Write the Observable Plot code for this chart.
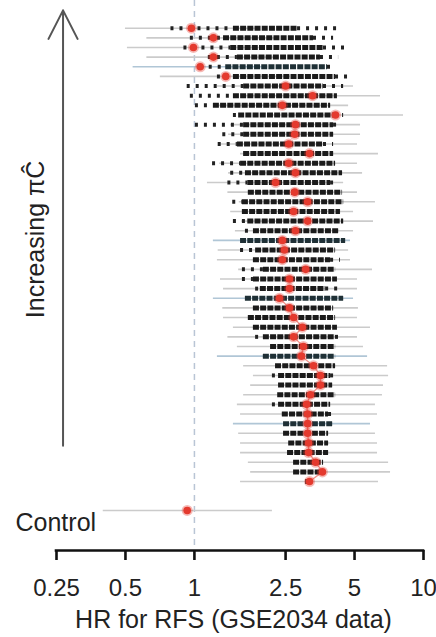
<!DOCTYPE html>
<html>
<head>
<meta charset="utf-8">
<script src="https://cdn.jsdelivr.net/npm/d3@7"></script>
<script src="https://cdn.jsdelivr.net/npm/@observablehq/plot@0.6"></script>
<style>
  html, body { margin: 0; padding: 0; background: #fff; }
  #chart svg { display: block; }
</style>
</head>
<body>
<div id="chart"></div>
<script>
// Hazard ratio for relapse-free survival (GSE2034), one row per signature,
// ordered top to bottom by increasing πĈ; last row is the control signature.
const hr = [0.97, 1.21, 0.99, 1.21, 1.06, 1.37, 2.50, 3.28, 2.42, 4.13,
            2.76, 2.74, 2.58, 3.18, 2.58, 2.76, 2.26, 2.74, 3.12, 2.71,
            3.12, 2.76, 2.42, 2.47, 2.42, 3.06, 2.60, 2.60, 2.35, 2.60,
            2.71, 2.96, 2.71, 2.99, 2.93, 3.31, 3.55, 3.55, 3.21, 3.09,
            3.12, 3.12, 3.12, 3.15, 3.15, 3.38, 3.62, 3.18];
const ciLo = [0.50, 0.62, 0.51, 0.62, 0.54, 0.71, 1.26, 1.66, 1.25, 2.09,
              1.44, 1.41, 1.29, 1.59, 1.29, 1.41, 1.14, 1.40, 1.57, 1.44,
              1.61, 1.51, 1.21, 1.27, 1.26, 1.56, 1.30, 1.34, 1.21, 1.33,
              1.34, 1.48, 1.40, 1.54, 1.26, 1.64, 1.81, 1.76, 1.64, 1.54,
              1.59, 1.48, 1.56, 1.59, 1.59, 1.72, 1.76, 1.59];
const ciHi = [1.89, 2.35, 1.92, 2.35, 2.09, 2.63, 4.95, 6.49, 4.71, 8.18,
              5.31, 5.31, 5.15, 6.36, 5.15, 5.42, 4.48, 5.15, 6.17, 4.95,
              6.05, 4.95, 4.80, 4.71, 4.80, 5.99, 5.15, 5.15, 4.95, 5.20,
              5.15, 5.87, 5.15, 5.47, 5.70, 6.97, 7.04, 6.69, 6.62, 6.17,
              6.30, 5.87, 6.17, 6.30, 6.30, 7.04, 7.18, 6.36];

// HRs of the matched random signatures: dense core and sparse outer range
const coreLo = [1.48, 1.34, 1.44, 1.54, 1.37, 1.48, 1.64, 1.48, 1.21, 1.56,
                1.64, 1.64, 1.54, 1.64, 1.59, 1.67, 1.71, 1.72, 1.62, 1.62,
                1.71, 1.81, 1.59, 1.85, 1.81, 2.00, 1.81, 1.94, 1.67, 1.81,
                1.72, 1.81, 2.00, 2.15, 2.00, 2.26, 2.33, 2.33, 2.31, 2.33,
                2.42, 2.45, 2.45, 2.58, 2.55, 2.71, 2.71, 3.06];
const coreHi = [2.82, 3.31, 3.66, 3.55, 3.81, 4.13, 3.66, 4.21, 3.93, 4.05,
                4.05, 4.05, 3.66, 4.05, 4.13, 4.43, 3.93, 4.43, 4.48, 4.34,
                4.48, 4.26, 4.57, 4.13, 3.93, 4.13, 4.21, 3.74, 4.48, 4.05,
                4.13, 4.21, 4.13, 4.13, 4.13, 4.13, 3.93, 4.01, 4.13, 3.93,
                3.85, 4.01, 3.85, 3.85, 3.85, 3.66, 3.66, 3.28];
const tailLo = [0.79, 0.96, 0.90, 1.15, 1.06, 1.26, 0.93, 0.96, 1.01, 1.48,
                1.01, 1.33, 1.27, 1.64, 1.20, 1.44, 1.40, 1.72, 1.47, 1.62,
                1.48, 1.67, 1.59, 1.59, 1.81, 1.62, 1.62, 1.85, 1.67, 1.81,
                1.72, 1.81, 1.85, 2.15, 2.00, 2.26, 2.19, 2.33, 2.31, 2.19,
                2.42, 2.45, 2.45, 2.58, 2.55, 2.71, 2.71, 3.06];
const tailHi = [4.21, 4.05, 4.71, 4.26, 4.13, 4.66, 4.48, 4.21, 3.93, 4.48,
                4.34, 4.05, 4.05, 4.05, 4.13, 4.43, 4.26, 4.43, 4.48, 4.34,
                4.48, 4.26, 4.57, 4.13, 4.34, 4.13, 4.21, 4.43, 4.48, 4.05,
                4.13, 4.21, 4.43, 4.13, 4.13, 4.13, 4.26, 4.01, 4.13, 3.93,
                4.13, 4.01, 3.85, 3.85, 3.85, 3.66, 3.66, 3.28];

// Rows drawn with a blue-tinted interval
const blueRows = [4, 22, 28, 34, 41];

const controlLabel = "Control";
const controlHr = 0.93;
const controlLo = 0.40;
const controlHi = 2.19;

const tickValues = [0.25, 0.5, 1, 2.5, 5, 10];
const tickLabels = ["0.25", "0.5", "1", "2.5", "5", "10"];
const xLabel = "HR for RFS (GSE2034 data)";
const arrowLabel = "Increasing πĈ";

// ---- derived tables ----
const rows = hr.map((v, i) => ({
  row: i, hr: v, lo: ciLo[i], hi: ciHi[i],
  coreLo: coreLo[i], coreHi: coreHi[i], tailLo: tailLo[i], tailHi: tailHi[i],
  blue: blueRows.includes(i)
}));
const controlRow = rows.length + 2;
const control = [{label: controlLabel, hr: controlHr, lo: controlLo, hi: controlHi, row: controlRow}];
const ticks = tickValues.map((v, i) => ({value: v, label: tickLabels[i]}));

const yDomain = [-2.87, 54.15];
const red = "#e43a2e";
const ink = "#222";
const font = "'Liberation Sans', Arial, Helvetica, sans-serif";

const chart = Plot.plot({
  width: 436,
  height: 637,
  marginLeft: 56,
  marginRight: 13,
  marginTop: 0,
  marginBottom: 87,
  style: {fontFamily: font, color: ink, background: "#fff", overflow: "visible"},
  x: {type: "log", domain: [tickValues[0], tickValues[tickValues.length - 1]]},
  y: {domain: yDomain, range: [0, 550], axis: null},
  marks: [
    // reference line at HR = 1
    Plot.ruleX([1], {stroke: "#b9c5d5", strokeWidth: 1.5, strokeDasharray: "6,5"}),

    // confidence intervals
    Plot.ruleY(rows.filter(d => !d.blue), {y: "row", x1: "lo", x2: "hi", stroke: "#cbcbcb", strokeWidth: 1.6}),
    Plot.ruleY(rows.filter(d => d.blue), {y: "row", x1: "lo", x2: "hi", stroke: "#b0c6d6", strokeWidth: 1.6}),
    Plot.ruleY(control, {y: "row", x1: "lo", x2: "hi", stroke: "#cbcbcb", strokeWidth: 1.6}),

    // random-signature HRs: sparse tails, then dense core
    Plot.ruleY(rows, {y: "row", x1: "tailLo", x2: "coreLo", stroke: ink, strokeWidth: 4, strokeDasharray: "3,6"}),
    Plot.ruleY(rows, {y: "row", x1: "coreHi", x2: "tailHi", stroke: ink, strokeWidth: 4, strokeDasharray: "3,6"}),
    Plot.ruleY(rows.filter(d => !d.blue), {y: "row", x1: "coreLo", x2: "coreHi", stroke: "#1b1b1b", strokeWidth: 5, strokeDasharray: "6,1.2"}),
    Plot.ruleY(rows.filter(d => d.blue), {y: "row", x1: "coreLo", x2: "coreHi", stroke: "#1f3036", strokeWidth: 5, strokeDasharray: "6,1.2"}),

    // estimates
    Plot.line(rows.filter(d => d.row >= 28), {x: "hr", y: "row", stroke: red, strokeWidth: 1.3, strokeOpacity: 0.55}),
    Plot.dot(rows, {x: "hr", y: "row", r: 5.5, fill: red, fillOpacity: 0.35}),
    Plot.dot(rows, {x: "hr", y: "row", r: 3.8, fill: red}),
    Plot.dot(control, {x: "hr", y: "row", r: 5.5, fill: red, fillOpacity: 0.35}),
    Plot.dot(control, {x: "hr", y: "row", r: 3.8, fill: red}),

    Plot.text(control, {text: "label", y: "row", frameAnchor: "left", dx: -41, dy: 13,
                        textAnchor: "start", lineAnchor: "middle", fontSize: 25, fill: ink}),

    // x axis: line, ticks and labels
    Plot.ruleY([yDomain[1]], {x1: tickValues[0], x2: tickValues[tickValues.length - 1],
                              stroke: "#111", strokeWidth: 2.6, strokeLinecap: "square"}),
    Plot.axisX(tickValues, {tickFormat: () => "", tickSize: 10, strokeWidth: 2.6, stroke: "#111", label: null}),
    Plot.text(ticks, {x: "value", text: "label", frameAnchor: "bottom", dy: 37.5,
                      textAnchor: "middle", lineAnchor: "middle", fontSize: 24, fill: ink}),
    Plot.text([xLabel], {text: d => d, frameAnchor: "bottom", dx: -6.5, dy: 69,
                         textAnchor: "middle", lineAnchor: "middle", fontSize: 25, fill: ink}),

    // ordering arrow
    Plot.arrow([arrowLabel], {x: () => 0.267, y1: () => 43.3, y2: () => -1.85,
                              stroke: "#555", strokeWidth: 2, headLength: 24, headAngle: 54}),
    Plot.text([arrowLabel], {text: d => d, y: () => 21.9, frameAnchor: "left", dx: -20.7,
                             rotate: -90, textAnchor: "middle", lineAnchor: "middle",
                             fontSize: 25, fill: ink})
  ]
});

document.getElementById("chart").appendChild(chart);
</script>
</body>
</html>
